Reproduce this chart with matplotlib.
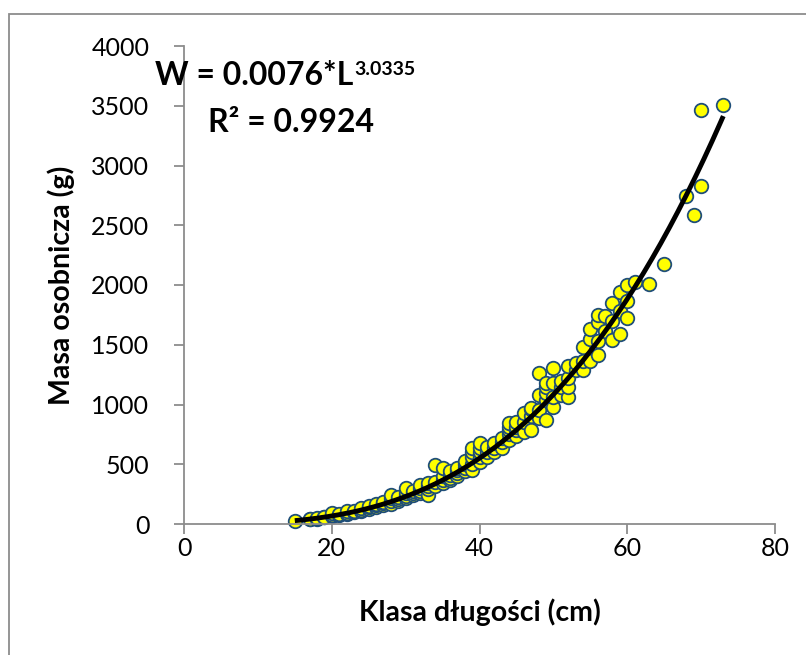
import numpy as np
import matplotlib
matplotlib.use("Agg")
from matplotlib import pyplot as plt
from matplotlib.patches import Rectangle

plt.rcParams['font.family'] = ['Lato', 'DejaVu Sans']

# length class (cm) and body mass (g)
length = [15,
          17, 17, 18, 18, 19, 19, 20, 20, 20, 21, 21, 22, 22, 22, 23, 23,
          24, 24, 24, 25, 25, 25, 26, 26, 26, 27, 27, 27,
          28, 28, 28, 28, 29, 29, 29, 30, 30, 30, 30, 31, 31, 31,
          32, 32, 32, 32, 33, 33, 33, 33, 34, 34, 34,
          35, 35, 35, 35, 36, 36, 36, 36, 37, 37, 37, 37,
          38, 38, 38, 38, 39, 39, 39, 39, 39, 40, 40, 40, 40, 40,
          41, 41, 41, 42, 42, 42, 43, 43, 43,
          44, 44, 44, 44, 44, 45, 45, 45, 45, 46, 46, 46,
          47, 47, 47, 47, 48, 48, 48, 48, 49, 49, 49, 49, 49,
          50, 50, 50, 50, 51, 51, 51, 52, 52, 52, 52, 53, 53,
          54, 54, 54, 55, 55, 55, 56, 56, 56, 56, 57, 57,
          58, 58, 58, 59, 59, 59, 60, 60, 60,
          61, 63, 65, 68, 69, 70, 70, 73]
mass = [25,
        38, 45, 42, 50, 55, 62, 65, 75, 90, 75, 85, 85, 95, 105, 100, 110,
        110, 120, 130, 125, 140, 150, 140, 155, 170, 160, 175, 185,
        170, 190, 215, 243, 195, 210, 225, 215, 235, 260, 299, 240, 260, 275,
        257, 280, 300, 327, 243, 290, 315, 340, 320, 354, 495,
        340, 370, 400, 466, 370, 383, 410, 440, 400, 425, 450, 470,
        440, 470, 500, 530, 452, 500, 564, 600, 634, 520, 560, 600, 640, 676,
        560, 600, 647, 600, 640, 680, 640, 690, 720,
        703, 750, 790, 815, 843, 740, 790, 815, 850, 773, 850, 927,
        787, 900, 960, 969, 885, 950, 1080, 1262, 871, 1038, 1094, 1150, 1183,
        982, 1066, 1178, 1304, 1080, 1150, 1200, 1066, 1150, 1220, 1318, 1290, 1351,
        1290, 1360, 1485, 1360, 1547, 1631, 1415, 1528, 1694, 1750, 1612, 1742,
        1541, 1700, 1853, 1589, 1784, 1940, 1728, 1862, 1996,
        2021, 2010, 2178, 2741, 2588, 2825, 3467, 3510]

# power trendline from the chart: W = a * L^b
a_coef = 0.0076
b_coef = 3.0335
r2 = 0.9924

W, H = 806, 655
fig = plt.figure(figsize=(W / 100, H / 100), dpi=100)
fig.patches.append(Rectangle((9/W, -0.01), 1.0, 1 - 14/H + 0.01,
                             transform=fig.transFigure, fill=False,
                             edgecolor='#8c8c8c', linewidth=1.3))

ax = fig.add_axes([184/W, 1 - 524/H, 591/W, 478/H])

ax.scatter(length, mass, s=95, c='#ffff00', edgecolors='#1f4e79',
           linewidths=1.3, zorder=2, clip_on=False)

lfit = np.linspace(min(length), max(length), 200)
ax.plot(lfit, a_coef * lfit ** b_coef, color='black', lw=3.5, zorder=3,
        solid_capstyle='butt')

ax.set_xlim(0, 80)
ax.set_ylim(0, 4000)
ax.set_xticks(np.arange(0, 81, 20))
ax.set_yticks(np.arange(0, 4001, 500))

for side in ['top', 'right']:
    ax.spines[side].set_visible(False)
for side in ['left', 'bottom']:
    ax.spines[side].set_color('#8c8c8c')
    ax.spines[side].set_linewidth(1.3)
ax.tick_params(axis='both', colors='#8c8c8c', length=7, width=1.3,
               labelsize=18, labelcolor='black')
ax.tick_params(axis='x', pad=2)
ax.tick_params(axis='y', pad=18)

ax.set_xlabel('Klasa długości (cm)', fontsize=20.5, fontweight='bold')
ax.set_ylabel('Masa osobnicza (g)', fontsize=20.5, fontweight='bold')
ax.xaxis.set_label_coords(0.5, -0.155)
ax.yaxis.set_label_coords(-0.185, 0.5)

# equation with a real superscript in the same font
eq = fig.text(155/W, 1 - 85/H, 'W = 0.0076*L', fontsize=23,
              fontweight='bold', ha='left', va='baseline')
fig.canvas.draw()
bb = eq.get_window_extent(renderer=fig.canvas.get_renderer())
fig.text((bb.x1 + 1) / W, 1 - 75/H, '3.0335', fontsize=14,
         fontweight='bold', ha='left', va='baseline')
fig.text(208/W, 1 - 132/H, 'R² = %.4f' % r2, fontsize=23,
         fontweight='bold', ha='left', va='baseline')

plt.savefig('out.png', dpi=100)
